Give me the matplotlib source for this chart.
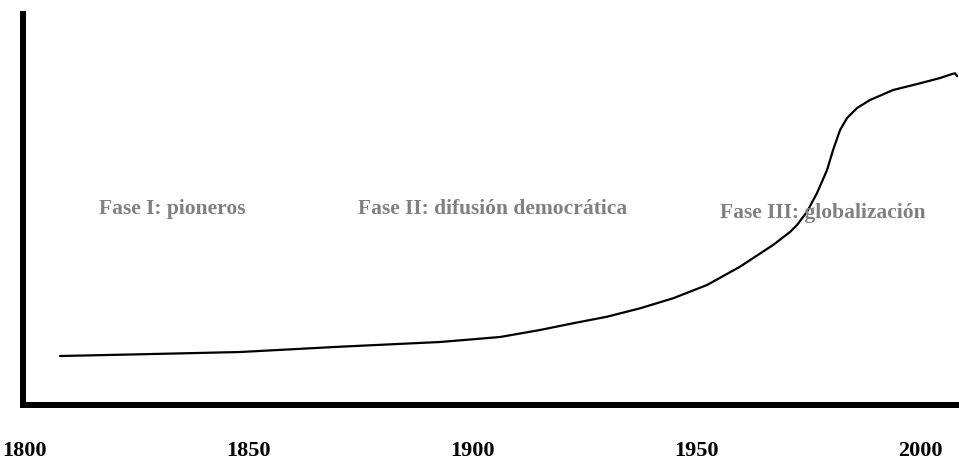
import matplotlib
matplotlib.use("Agg")
import matplotlib.pyplot as plt

# Curve (schematic), years vs relative level
years = [1807.86, 1825.73, 1848.07, 1870.40, 1892.72, 1906.12, 1915.05, 1922.42,
         1930.01, 1937.38, 1944.75, 1952.34, 1959.71, 1967.08, 1970.87, 1972.44,
         1974.67, 1976.90, 1979.14, 1980.48, 1982.04, 1983.60, 1985.84, 1988.74,
         1993.88, 1999.91, 2004.38, 2007.06, 2007.73, 2008.17]
level = [12.53, 12.97, 13.55, 14.91, 16.11, 17.39, 19.18, 20.90,
         22.58, 24.73, 27.29, 30.69, 35.38, 40.92, 44.25, 46.04,
         49.44, 54.22, 60.10, 65.22, 70.33, 73.40, 75.96, 78.01,
         80.56, 82.28, 83.63, 84.65, 84.83, 84.14]

tick_years = [1800, 1850, 1900, 1950, 2000]
tick_labels = ["1800", "1850", "1900", "1950", "2000"]

phase_labels = ["Fase I: pioneros", "Fase II: difusión democrática", "Fase III: globalización"]
phase_x = [1816.6, 1874.4, 1955.2]
phase_y = [50.1, 50.1, 49.1]

fig = plt.figure(figsize=(9.59, 4.62), dpi=100)
ax = fig.add_axes([23 / 959, 57 / 462, 1 - 23 / 959, (405 - 14) / 462])

ax.plot(years, level, color="black", lw=1.6, solid_capstyle="round", solid_joinstyle="round")

ax.set_xlim(1799.6, 2008.6)
ax.set_ylim(0, 100)

for s in ["top", "right"]:
    ax.spines[s].set_visible(False)
for s in ["left", "bottom"]:
    ax.spines[s].set_linewidth(4.3)
    ax.spines[s].set_color("black")
    ax.spines[s].set_capstyle("projecting")

ax.set_yticks([])
ax.set_xticks(tick_years)
ax.set_xticklabels(tick_labels, fontfamily="Liberation Serif", fontweight="bold", fontsize=16)
ax.tick_params(axis="x", length=0, pad=26)

for lab, x, y in zip(phase_labels, phase_x, phase_y):
    ax.text(x, y, lab, ha="left", va="center", color="#808080",
            fontfamily="Liberation Serif", fontweight="bold", fontsize=15.5)

fig.savefig("out.png", dpi=100)
